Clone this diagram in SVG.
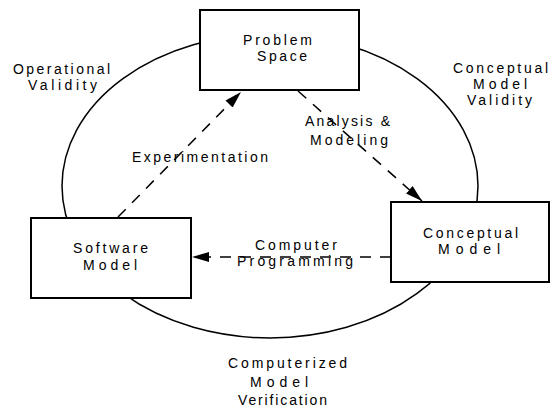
<svg xmlns="http://www.w3.org/2000/svg" width="550" height="410" viewBox="0 0 550 410">
<style>
  text { font-family: "Liberation Sans", "DejaVu Sans", sans-serif; font-size: 14px; fill: #000; text-anchor: middle; }
  .box { fill: #fff; stroke: #000; stroke-width: 2; }
  .cycle { fill: none; stroke: #000; stroke-width: 1.5; }
  .dash { fill: none; stroke: #000; stroke-width: 1.5; stroke-dasharray: 11 9; }
</style>
<defs>
  <marker id="arrow" markerUnits="userSpaceOnUse" markerWidth="18" markerHeight="12" refX="17" refY="6" orient="auto">
    <path d="M0,1 L17,6 L0,11 Z" fill="#000"/>
  </marker>
</defs>
<rect width="550" height="410" fill="#fff"/>
<g id="cycle">
  <ellipse class="cycle" cx="270" cy="186" rx="208" ry="152"/>
</g>
<g id="connectors">
  <line class="dash" x1="118" y1="217" x2="241" y2="92" marker-end="url(#arrow)"/>
  <line class="dash" x1="298" y1="91" x2="422" y2="201" marker-end="url(#arrow)"/>
  <line class="dash" x1="391" y1="257" x2="192" y2="257" marker-end="url(#arrow)"/>
</g>
<g id="problem-space">
  <rect class="box" x="200" y="10" width="159" height="80"/>
  <text x="277.5" y="45" textLength="69" lengthAdjust="spacing">Problem</text>
  <text x="282" y="61" textLength="50" lengthAdjust="spacing">Space</text>
</g>
<g id="software-model">
  <rect class="box" x="31" y="218" width="160" height="80"/>
  <text x="110.5" y="253" textLength="75" lengthAdjust="spacing">Software</text>
  <text x="110" y="270" textLength="54" lengthAdjust="spacing">Model</text>
</g>
<g id="conceptual-model">
  <rect class="box" x="391" y="202" width="158" height="80"/>
  <text x="470.5" y="238" textLength="95" lengthAdjust="spacing">Conceptual</text>
  <text x="469" y="254" textLength="62" lengthAdjust="spacing">Model</text>
</g>
<g id="labels">
  <text x="61.5" y="74" textLength="97" lengthAdjust="spacing">Operational</text>
  <text x="62.5" y="90" textLength="69" lengthAdjust="spacing">Validity</text>
  <text x="500.5" y="73" textLength="95" lengthAdjust="spacing">Conceptual</text>
  <text x="500" y="89" textLength="54" lengthAdjust="spacing">Model</text>
  <text x="499.5" y="105" textLength="65" lengthAdjust="spacing">Validity</text>
  <text x="200" y="162" textLength="136" lengthAdjust="spacing">Experimentation</text>
  <text x="347.5" y="126" textLength="85" lengthAdjust="spacing">Analysis &amp;</text>
  <text x="349" y="145" textLength="78" lengthAdjust="spacing">Modeling</text>
  <text x="296" y="250" textLength="82" lengthAdjust="spacing">Computer</text>
  <text x="295" y="266" textLength="116" lengthAdjust="spacing">Programming</text>
  <text x="287.5" y="368" textLength="119" lengthAdjust="spacing">Computerized</text>
  <text x="279" y="387" textLength="58" lengthAdjust="spacing">Model</text>
  <text x="282.5" y="405" textLength="89" lengthAdjust="spacing">Verification</text>
</g>
</svg>
